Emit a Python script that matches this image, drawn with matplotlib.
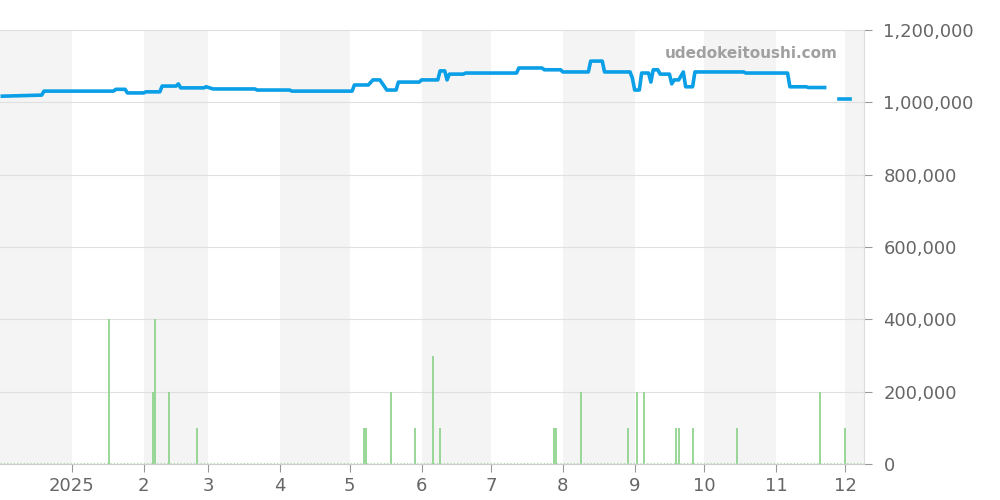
import matplotlib
matplotlib.use("Agg")
import matplotlib.pyplot as plt
import pandas as pd

# price line: day offset from 2025-01-01, value in thousands of yen
line_days = [-30, -13, -12, 18, 19, 23, 24, 31, 32, 38, 39, 45, 46, 47, 57, 58, 61, 79, 80, 94, 95,
             121, 122, 128, 130, 133, 136, 140, 141, 150, 151, 158, 159, 161, 162, 163, 169, 170,
             192, 193, 203, 204, 211, 212, 223, 224, 229, 230, 241, 242, 243, 245, 246, 249, 250,
             251, 253, 254, 258, 259, 260, 262, 264, 265, 268, 269, 274, 275, 290, 291, 309, 310,
             317, 318, 325]
line_vals = [1017, 1020, 1031, 1031, 1036, 1036, 1026, 1026, 1029, 1029, 1045, 1045, 1051, 1040,
             1040, 1043, 1037, 1037, 1034, 1034, 1031,
             1031, 1048, 1048, 1062, 1062, 1034, 1034, 1056, 1056, 1062, 1062, 1087, 1087, 1062,
             1078, 1078, 1081,
             1081, 1095, 1095, 1090, 1090, 1084, 1084, 1114, 1114, 1084, 1084, 1067, 1034, 1034,
             1081, 1081, 1056, 1090, 1090, 1078, 1078, 1051, 1062, 1062, 1084, 1043, 1043, 1084,
             1084, 1084, 1084, 1081, 1081, 1043, 1043, 1041, 1041]
tail_days = [331, 336]
tail_vals = [1009, 1009]

# volume bars
bar_days = [16, 35, 36, 42, 54, 126, 127, 138, 148, 156, 159, 208, 209, 220, 240, 244, 247,
            261, 262, 268, 287, 323, 334]
bar_vals = [400, 200, 400, 200, 100, 100, 100, 200, 100, 300, 100, 100, 100, 200, 100, 200, 200,
            100, 100, 100, 100, 200, 100]

month_labels = ["2025", "2", "3", "4", "5", "6", "7", "8", "9", "10", "11", "12"]

base = pd.Timestamp("2025-01-01")
to_dates = lambda days: [base + pd.Timedelta(days=d) for d in days]

fig = plt.figure(figsize=(10, 5), dpi=100)
ax = fig.add_axes([0.0, 0.072, 0.864, 0.868])

x0, x1 = pd.Timestamp("2024-12-01"), pd.Timestamp("2025-12-09")
ax.set_xlim(x0, x1)
ax.set_ylim(0, 1_200_000)

# alternating month shading
months = pd.date_range("2024-12-01", "2026-01-01", freq="MS")
for i in range(len(months) - 1):
    if i % 2 == 0:
        ax.axvspan(months[i], months[i + 1], color="#f4f4f4", lw=0, zorder=0)

ax.vlines(to_dates(bar_days), 0, [v * 1000 for v in bar_vals], color="#8fd48f", lw=1.3, zorder=2)
ax.plot([x0, x1], [1500, 1500], color="#a8dca8", lw=0.8, ls=(0, (1, 2)), zorder=2)
ax.plot(to_dates(line_days), [v * 1000 for v in line_vals], color="#0a9fe6", lw=2.6, zorder=3)
ax.plot(to_dates(tail_days), [v * 1000 for v in tail_vals], color="#0a9fe6", lw=2.6, zorder=3)

ax.yaxis.tick_right()
ax.set_yticks(range(0, 1_200_001, 200_000))
ax.set_yticklabels([f"{v:,}" for v in range(0, 1_200_001, 200_000)])
ax.grid(axis="y", color="#e0e0e0", lw=0.8, zorder=1)
ax.set_axisbelow(True)

ax.set_xticks(pd.date_range("2025-01-01", "2025-12-01", freq="MS"))
ax.set_xticklabels(month_labels)
ax.tick_params(axis="both", colors="#666666", labelsize=13, length=6, color="#999999")
ax.tick_params(axis="y", pad=8)

for side in ["left", "top"]:
    ax.spines[side].set_visible(False)
ax.spines["right"].set_color("#dddddd")
ax.spines["bottom"].set_color("#cccccc")

ax.text(0.97, 0.945, "udedokeitoushi.com", transform=ax.transAxes, ha="right", va="center",
        fontsize=11, fontweight="bold", color="#a0a0a0")

fig.savefig("out.png", dpi=100)
